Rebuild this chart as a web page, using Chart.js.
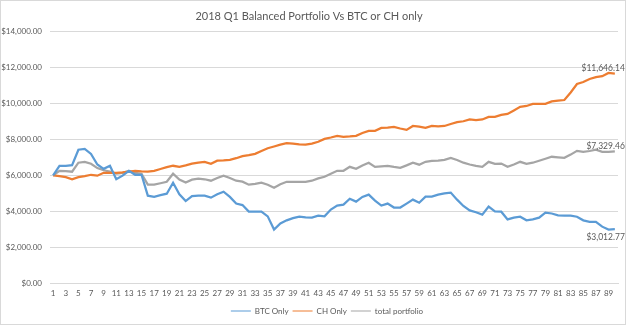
<!DOCTYPE html>
<html>
<head>
<meta charset="utf-8">
<title>2018 Q1 Balanced Portfolio Vs BTC or CH only</title>
<script src="https://cdn.jsdelivr.net/npm/chart.js@4.4.1/dist/chart.umd.min.js"></script>
<style>
  html, body { margin: 0; padding: 0; background: #fff; }
  #wrap { position: relative; width: 626px; height: 325px; }
</style>
</head>
<body>
<div id="wrap"><canvas id="chart"></canvas></div>
<script>
// days 1..90
const days = [];
for (let d = 1; d <= 90; d++) days.push(String(d));

const btcOnly = [
  6000, 6530, 6530, 6560, 7420, 7470, 7190, 6600, 6360, 6530,
  5780, 5980, 6250, 6030, 6030, 4870, 4810, 4900, 4980, 5590,
  4950, 4570, 4850, 4870, 4870, 4760, 4950, 5090, 4800, 4430,
  4350, 3990, 3980, 3980, 3720, 2990, 3330, 3500, 3620, 3710,
  3660, 3650, 3760, 3720, 4100, 4320, 4370, 4700, 4540, 4800,
  4930, 4600, 4320, 4430, 4210, 4210, 4430, 4650, 4480, 4820,
  4820, 4930, 5000, 5040, 4650, 4300, 4050, 3950, 3820, 4260,
  4000, 3980, 3550, 3650, 3700, 3500, 3550, 3650, 3930, 3880,
  3780, 3760, 3760, 3700, 3500, 3420, 3420, 3150, 2990, 3012.77
];

const chOnly = [
  6000, 5950, 5900, 5780, 5900, 5950, 6030, 5980, 6140, 6140,
  6140, 6160, 6200, 6250, 6220, 6200, 6250, 6350, 6450, 6530,
  6470, 6550, 6650, 6700, 6750, 6640, 6810, 6830, 6860, 6950,
  7060, 7120, 7190, 7350, 7500, 7600, 7700, 7780, 7760, 7720,
  7700, 7760, 7860, 8020, 8100, 8190, 8140, 8160, 8190, 8350,
  8470, 8470, 8630, 8650, 8690, 8600, 8520, 8740, 8700, 8630,
  8740, 8720, 8740, 8850, 8950, 9000, 9100, 9070, 9100, 9240,
  9240, 9350, 9410, 9600, 9800, 9850, 9960, 9960, 9970, 10100,
  10150, 10180, 10600, 11070, 11180, 11350, 11450, 11500, 11680, 11646.14
];

const totalPortfolio = [
  6000, 6250, 6230, 6200, 6700, 6750, 6640, 6400, 6280, 6200,
  6090, 6140, 6250, 6140, 6090, 5480, 5480, 5560, 5640, 6090,
  5760, 5600, 5760, 5810, 5780, 5700, 5850, 5980, 5850, 5700,
  5650, 5480, 5520, 5590, 5480, 5310, 5500, 5640, 5640, 5640,
  5640, 5700, 5830, 5920, 6090, 6250, 6250, 6470, 6360, 6550,
  6700, 6470, 6500, 6530, 6470, 6420, 6550, 6700, 6590, 6750,
  6800, 6810, 6860, 6970, 6850, 6700, 6600, 6520, 6470, 6750,
  6640, 6650, 6470, 6600, 6750, 6640, 6700, 6810, 6920, 7030,
  7000, 6970, 7150, 7360, 7300, 7350, 7420, 7300, 7300, 7329.46
];

const FONT = 'Lato, "Open Sans", sans-serif';
const TEXT = '#595959';
const GRID = '#d9d9d9';

function money(v) {
  return '$' + Number(v).toLocaleString('en-US', { minimumFractionDigits: 2, maximumFractionDigits: 2 });
}

// white background + thin frame
const framePlugin = {
  id: 'frame',
  beforeDraw(chart) {
    const c = chart.ctx;
    c.save();
    c.fillStyle = '#fff';
    c.fillRect(0, 0, chart.width, chart.height);
    c.strokeStyle = GRID;
    c.lineWidth = 1;
    c.strokeRect(0.5, 0.5, chart.width - 1, chart.height - 1);
    c.restore();
  },
  // excel centres the legend a bit to the right
  afterLayout(chart) {
    chart.legend.left += 18;
    chart.legend.right += 18;
  }
};

// value label on the last point of each line
const lastLabelPlugin = {
  id: 'lastLabel',
  afterDatasetsDraw(chart) {
    const c = chart.ctx;
    c.save();
    c.font = '8.5px ' + FONT;
    c.fillStyle = TEXT;
    c.textAlign = 'right';
    c.textBaseline = 'middle';
    chart.data.datasets.forEach((ds, i) => {
      const meta = chart.getDatasetMeta(i);
      const pt = meta.data[meta.data.length - 1];
      const v = ds.data[ds.data.length - 1];
      const dy = ds.labelBelow ? 8 : -5;
      c.fillText(money(v), pt.x + 10, pt.y + dy);
    });
    c.restore();
  }
};

new Chart(document.getElementById('chart'), {
  type: 'line',
  data: {
    labels: days,
    datasets: [
      { label: 'BTC Only', data: btcOnly, borderColor: '#5b9bd5', backgroundColor: '#5b9bd5', labelBelow: true },
      { label: 'CH Only', data: chOnly, borderColor: '#ed7d31', backgroundColor: '#ed7d31' },
      { label: 'total portfolio', data: totalPortfolio, borderColor: '#a5a5a5', backgroundColor: '#a5a5a5' }
    ]
  },
  options: {
    responsive: true,
    maintainAspectRatio: false,
    animation: false,
    layout: { padding: { left: 0, right: 8, top: 0, bottom: 0 } },
    elements: {
      line: { borderWidth: 2.25, tension: 0 },
      point: { radius: 0 }
    },
    plugins: {
      title: {
        display: true,
        text: '2018 Q1 Balanced Portfolio Vs BTC or CH only',
        color: TEXT,
        font: { family: FONT, size: 11, weight: 'normal' },
        padding: { top: 10, bottom: 8 }
      },
      legend: {
        position: 'bottom',
        labels: {
          color: TEXT,
          font: { family: FONT, size: 8 },
          usePointStyle: true,
          pointStyle: 'line',
          pointStyleWidth: 20,
          padding: 4
        }
      },
      tooltip: { enabled: false }
    },
    scales: {
      x: {
        offset: true,
        grid: { display: false, drawTicks: false },
        border: { color: GRID },
        ticks: {
          color: TEXT,
          font: { family: FONT, size: 8 },
          autoSkip: false,
          maxRotation: 0,
          padding: 5,
          callback: function (val, idx) { return idx % 2 === 0 ? this.getLabelForValue(val) : ''; }
        }
      },
      y: {
        min: 0,
        max: 14000,
        afterFit: (scale) => { scale.width = 50; },
        grid: { color: GRID, drawTicks: false },
        border: { display: false },
        ticks: {
          stepSize: 2000,
          color: TEXT,
          font: { family: FONT, size: 8 },
          padding: 8,
          callback: (v) => money(v)
        }
      }
    }
  },
  plugins: [framePlugin, lastLabelPlugin]
});
</script>
</body>
</html>
